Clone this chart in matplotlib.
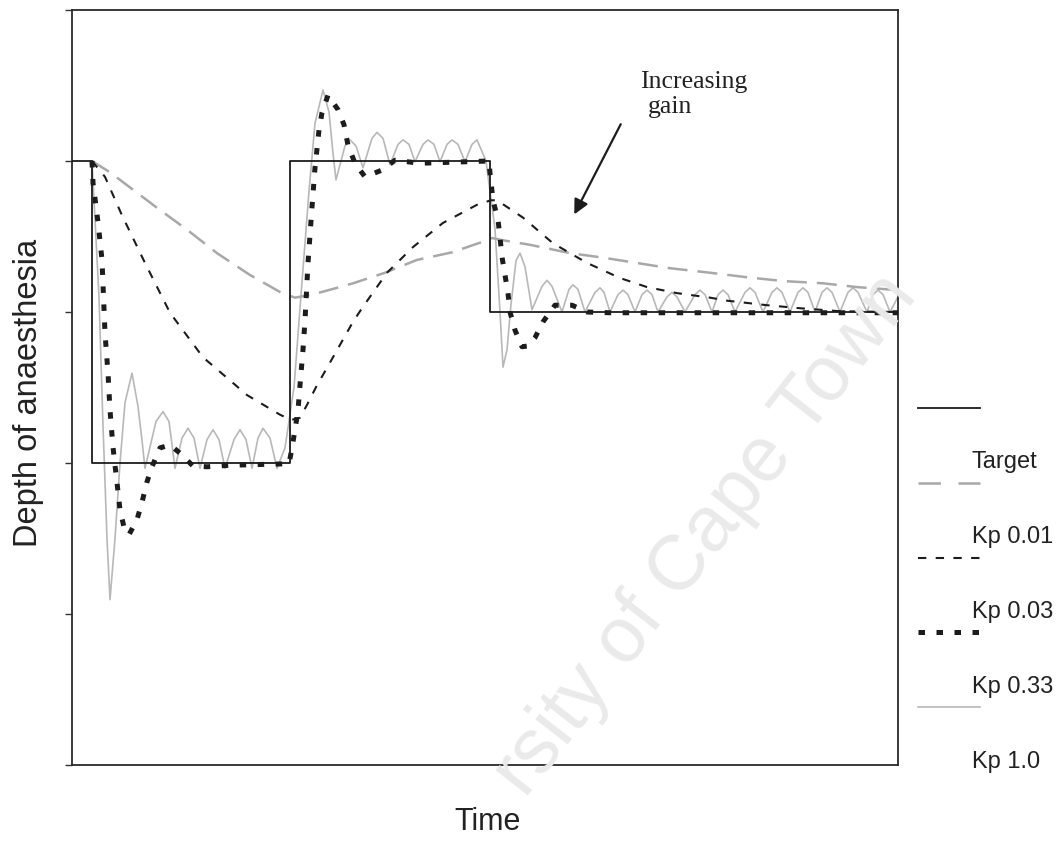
import numpy as np
import matplotlib
matplotlib.use("Agg")
import matplotlib.pyplot as plt
from matplotlib.lines import Line2D

plt.rcParams["font.family"] = ["Liberation Sans", "DejaVu Sans"]

# 目标深度 (Target)
target_t = [0, 4, 4, 43.5, 43.5, 83.5, 83.5, 165.2]
target_d = [80, 80, 40, 40, 80, 80, 60, 60]

# Kp 0.01
kp001_t = [4, 7.6, 17, 23, 29, 35.6, 42, 44.6, 48, 53, 56.2, 62.6, 69, 76, 83, 84,
           86.2, 91.6, 99.6, 106.2, 119.6, 127.6, 135, 142.2, 150.2, 157, 165.2]
kp001_d = [80, 78.5, 73.8, 70.9, 67.8, 64.9, 62.5, 61.9, 62.3, 63.2, 63.8, 65.2, 66.9, 67.9, 69.5, 69.8,
           69.5, 68.9, 67.8, 67.2, 65.8, 65.2, 64.6, 64.1, 63.8, 63.3, 62.9]

# Kp 0.03
kp003_t = [4, 6.6, 10, 14.6, 19.6, 26.2, 32.2, 35, 41.6, 43.8, 45.6, 47, 49, 51, 56.2, 58.2, 63, 68.2,
           74.2, 81, 83.8, 85, 90.2, 96.2, 103, 109.6, 115, 121, 127.6, 131, 139, 145.6, 153.6, 165.2]
kp003_d = [80, 77.9, 72.8, 66.5, 59.9, 54.0, 50.6, 49.0, 46.4, 45.7, 46.0, 47.7, 50.3, 52.6, 58.7, 60.7, 65.2, 68.6,
           71.8, 74.2, 74.8, 74.8, 72.5, 69.1, 66.5, 64.5, 63.3, 62.5, 61.9, 61.5, 60.9, 60.5, 60.1, 60.0]

# Kp 0.33
kp033_t = [4, 4.2, 5.2, 6.0, 6.6, 7.2, 7.6, 8.2, 8.6, 9.0, 9.6, 10.4, 11.4, 13.0, 14.0, 15.0, 16.0, 17.6,
           19.6, 21.6, 24.2, 27.0, 31.6, 43.4, 44.0, 44.6, 45.2, 45.6, 46.2, 46.6, 47.2, 48.0, 48.6, 49.4,
           50.0, 51.2, 53.2, 54.4, 55.2, 56.6, 58.6, 62.0, 64.6, 69.6, 83.4, 83.6, 84.2, 85.2, 85.6, 86.0,
           86.6, 87.2, 87.6, 88.6, 90.0, 91.2, 92.6, 94.2, 96.6, 100.0, 103.0, 107.6, 165.2]
kp033_d = [80, 77.1, 71.9, 66.9, 57.2, 51.9, 47.0, 42.1, 39.7, 37.4, 33.8, 31.5, 30.5, 32.5, 34.8, 37.5, 39.5, 42.0,
           42.4, 41.3, 39.6, 39.5, 39.7, 39.9, 42.0, 44.4, 47.0, 50.3, 55.0, 58.9, 66.5, 73.9, 79.1, 84.1,
           86.4, 88.7, 86.8, 84.8, 82.1, 79.7, 77.9, 78.8, 80.1, 79.7, 80.0, 78.4, 74.8, 72.2, 69.9, 67.3,
           64.9, 62.5, 60.0, 57.6, 55.4, 55.5, 56.6, 58.7, 60.9, 60.9, 60.0, 59.9, 59.9]

# Kp 1.0
kp1_t = [4, 5.4, 6.2, 7.0, 7.6, 8.6, 9.6, 10.6, 12.0, 13.2, 14.0, 14.6,
         16.8, 18.2, 19.4, 20.6, 22.0, 23.2, 24.4, 25.6, 27.0, 28.2, 29.4, 30.6,
         32.4, 33.6, 34.8, 36.0, 37.2, 38.2, 39.6, 41.0,
         42.6, 44.4, 46.0, 47.4, 48.6, 50.2, 51.4, 52.2, 52.8,
         54.6, 55.6, 56.8, 58.2, 60.0, 61.0, 62.2, 63.6, 65.2, 66.2, 67.4, 68.6, 70.2, 71.2, 72.4, 73.6,
         75.0, 76.0, 77.2, 78.6, 80.0, 81.0, 82.8,
         84.6, 85.6, 86.2, 87.0, 87.8, 88.8, 89.6, 90.6, 92.0,
         94.0, 95.0, 96.0, 98.0, 99.4, 100.2, 101.2, 102.6,
         104.6, 105.6, 106.4, 107.6, 109.2, 110.2, 111.2, 112.6, 114.0, 115.0, 116.0, 117.2,
         119.0, 120.0, 121.0, 122.6, 124.6, 125.6, 126.6, 128.0, 129.2, 130.2, 131.2, 132.6,
         134.6, 135.6, 136.6, 138.2, 140.0, 141.0, 142.0, 143.6, 145.2, 146.2, 147.2, 148.6,
         150.0, 151.0, 152.0, 153.6, 155.2, 156.2, 157.2, 159.0, 160.2, 161.2, 162.2, 163.6, 165.2]
kp1_d = [80, 62, 45, 30, 21.9, 30, 40, 48, 51.9, 47.5, 43, 39.3,
         45.5, 46.8, 45.5, 39.3, 43.3, 44.6, 43.3, 39.3, 43.1, 44.4, 43.1, 39.3,
         43.1, 44.4, 43.1, 39.3, 43.3, 44.6, 43.3, 39.3,
         42.0, 50.0, 64.0, 76.0, 85.0, 89.4, 86.5, 81.0, 77.5,
         82.0, 82.8, 82.0, 79.1, 83.0, 83.8, 83.0, 79.5, 82.2, 82.8, 82.2, 79.9, 82.2, 82.8, 82.2, 79.9,
         82.2, 82.8, 82.2, 79.9, 82.2, 82.8, 80.0,
         71.0, 60.0, 52.7, 55.0, 61.0, 66.8, 67.8, 66.0, 60.3,
         63.4, 64.2, 63.4, 60.0, 63.0, 63.6, 63.0, 60.0,
         62.6, 63.2, 62.6, 60.0, 62.3, 62.9, 62.3, 60.0, 62.3, 62.9, 62.3, 60.0,
         62.0, 62.6, 62.0, 60.0, 62.3, 62.9, 62.3, 60.0, 62.3, 62.9, 62.3, 60.0,
         62.6, 63.2, 62.6, 60.0, 62.6, 63.2, 62.6, 60.0, 62.6, 63.2, 62.6, 60.0,
         62.6, 63.2, 62.6, 60.0, 62.6, 63.2, 62.6, 60.0, 62.3, 62.9, 62.3, 60.0, 62.0]

labels = ["Target", "Kp 0.01", "Kp 0.03", "Kp 0.33", "Kp 1.0"]

styles = [
    dict(color="#1c1c1c", lw=1.3, ls="-"),
    dict(color="#a8a8a8", lw=1.8, ls=(0, (8, 4))),
    dict(color="#1c1c1c", lw=1.5, ls=(0, (4, 4.5))),
    dict(color="#1c1c1c", lw=3.6, ls=(0, (1.3, 2.3)), dash_capstyle="butt"),
    dict(color="#b8b8b8", lw=1.2, ls="-"),
]
# 图例里 Kp 0.01 只显示两段
legend_ls = ["-", (0, (9, 7)), (0, (4, 4.5)), (0, (1.3, 2.3)), "-"]

fig = plt.figure(figsize=(10.64, 8.41), dpi=100)
ax = fig.add_axes([72 / 1064, 76 / 841, 826 / 1064, 755 / 841])

# 水印
fig.text(918 / 1064, 1 - 296 / 841, "rsity of Cape Town", rotation=52, fontsize=56,
         color="#eaeaea", ha="right", va="baseline", rotation_mode="anchor", zorder=0)
ax.set_facecolor("none")

series = [(target_t, target_d), (kp001_t, kp001_d), (kp003_t, kp003_d),
          (kp033_t, kp033_d), (kp1_t, kp1_d)]
order = [4, 1, 2, 0, 3]
for i in order:
    t, d = series[i]
    st = styles[i]
    extra = {k: v for k, v in st.items() if k not in ("color", "lw", "ls")}
    ax.plot(t, d, color=st["color"], lw=st["lw"], linestyle=st["ls"], zorder=2 + order.index(i), **extra)

ax.set_xlim(0, 165.2)
ax.set_ylim(0, 100)
ax.set_yticks([0, 20, 40, 60, 80, 100])
ax.set_yticklabels([])
ax.set_xticks([])
ax.tick_params(axis="y", direction="out", length=5, width=1.0, color="#333333")
for sp in ax.spines.values():
    sp.set_color("#2a2a2a")
    sp.set_linewidth(1.3)

ax.set_ylabel("Depth of anaesthesia", fontsize=23.5, color="#222222")
ax.yaxis.set_label_coords(-0.034, 0.493)
fig.text(488 / 1064, 1 - 822 / 841, "Time", fontsize=22, color="#222222", ha="center", va="center")

# 箭头 Increasing gain
ax.annotate("", xy=(100.2, 72.6), xytext=(110, 85.2),
            arrowprops=dict(arrowstyle="-|>", color="#1c1c1c", lw=1.6, mutation_scale=22))
ax.text(113.6, 89.7, "Increasing", family=["Liberation Serif", "DejaVu Serif"], fontsize=18.5,
        color="#222222", ha="left", va="baseline")
ax.text(115.2, 86.4, "gain", family=["Liberation Serif", "DejaVu Serif"], fontsize=18.5,
        color="#222222", ha="left", va="baseline")

# 图例 (线在上, 文字在下)
line_y = [408, 483, 558, 632, 707]
text_y = [462, 537, 612, 687, 762]
for i, lab in enumerate(labels):
    st = styles[i]
    extra = {k: v for k, v in st.items() if k not in ("color", "lw", "ls")}
    yy = 1 - line_y[i] / 841
    fig.add_artist(Line2D([918 / 1064, 980 / 1064], [yy, yy], transform=fig.transFigure,
                          color=st["color"], lw=st["lw"], linestyle=legend_ls[i], **extra))
    fig.text(972 / 1064, 1 - text_y[i] / 841, lab, fontsize=17, color="#222222",
             ha="left", va="center")

fig.savefig("out.png", dpi=100)
